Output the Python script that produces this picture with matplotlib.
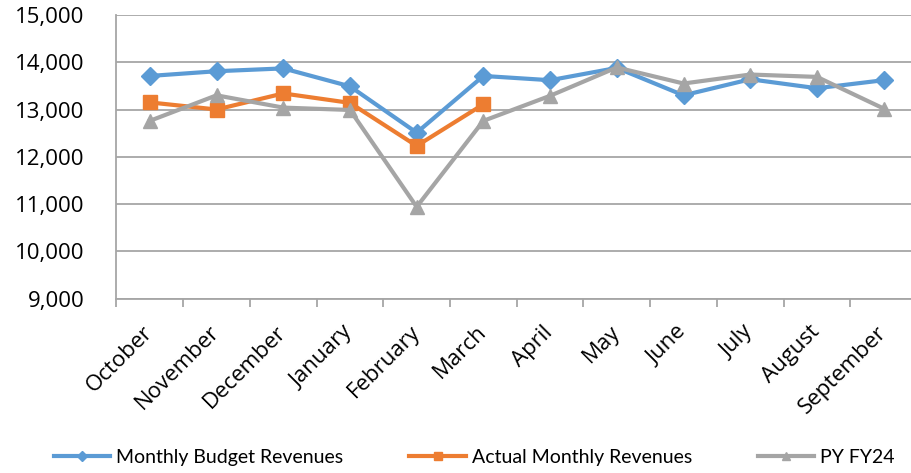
import matplotlib
matplotlib.use("Agg")
import matplotlib.pyplot as plt
from matplotlib.ticker import FuncFormatter, FixedLocator

months = ["October", "November", "December", "January", "February", "March",
          "April", "May", "June", "July", "August", "September"]
budget = [13710, 13810, 13870, 13490, 12510, 13710,
          13620, 13880, 13300, 13640, 13450, 13620]
actual = [13150, 13000, 13340, 13140, 12230, 13110]
py_fy24 = [12760, 13300, 13040, 12990, 10940, 12760,
           13290, 13890, 13550, 13740, 13690, 13020]

plt.rcParams['font.family'] = ['Open Sans', 'DejaVu Sans']

fig = plt.figure(figsize=(9.12, 4.73), dpi=100)
ax = fig.add_axes([116.5 / 912, 1 - 298.5 / 473, 800.5 / 912, 283.5 / 473])

x = list(range(len(months)))
ax.plot(x, budget, color='#5B9BD5', lw=3, marker='D', ms=9,
        label='Monthly Budget Revenues', zorder=3)
ax.plot(x[:len(actual)], actual, color='#ED7D31', lw=3, marker='s', ms=10,
        label='Actual Monthly Revenues', zorder=4)
ax.plot(x, py_fy24, color='#A5A5A5', lw=3, marker='^', ms=10,
        label='PY FY24', zorder=5)

ax.set_xlim(-0.5, len(months) - 0.5)
ax.set_ylim(9000, 15000)
ax.set_yticks(range(9000, 15001, 1000))
ax.yaxis.set_major_formatter(FuncFormatter(lambda v, p: f"{int(v):,}"))
ax.grid(axis='y', color='#A6A6A6', lw=1.3)
ax.set_axisbelow(True)

ax.set_xticks(x)
ax.set_xticklabels(months, rotation=45, ha='right', va='center',
                   rotation_mode='anchor', fontsize=16)
ax.xaxis.set_minor_locator(FixedLocator([i + 0.5 for i in range(-1, len(months))]))
ax.tick_params(axis='x', which='major', length=0, pad=22)
ax.tick_params(axis='x', which='minor', length=6, color='#A6A6A6', width=1.3)
ax.tick_params(axis='y', length=0, pad=23, labelsize=16)

for s in ['top', 'right']:
    ax.spines[s].set_visible(False)
for s in ['left', 'bottom']:
    ax.spines[s].set_color('#A6A6A6')
    ax.spines[s].set_linewidth(1.3)

fig.legend(loc='center', bbox_to_anchor=(0.52, 1 - 457 / 473), ncol=3,
           frameon=False, handlelength=2.9, handletextpad=0.3,
           columnspacing=3.4, markerscale=0.55,
           prop={'family': ['Lato', 'DejaVu Sans'], 'size': 14})

fig.savefig("out.png", dpi=100)
